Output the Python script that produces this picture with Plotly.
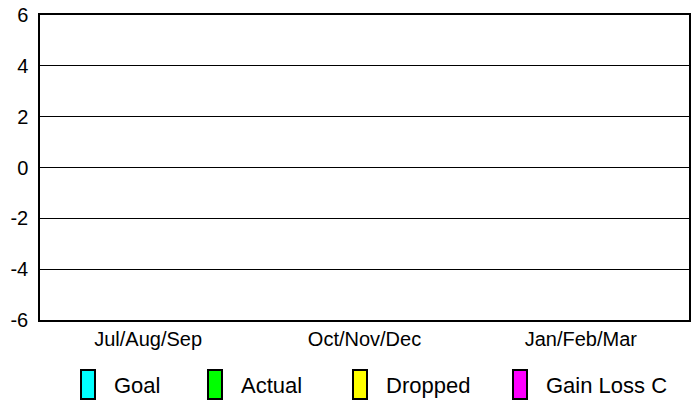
import plotly.graph_objects as go

# Quarterly categories and series (no values recorded for any quarter)
quarters = ["Jul/Aug/Sep", "Oct/Nov/Dec", "Jan/Feb/Mar"]
series_names = ["Goal", "Actual", "Dropped", "Gain Loss C"]
series_colors = ["#00FFFF", "#00FF00", "#FFFF00", "#FF00FF"]
goal = [None, None, None]
actual = [None, None, None]
dropped = [None, None, None]
gain_loss = [None, None, None]
series_values = [goal, actual, dropped, gain_loss]

y_ticks = [-6, -4, -2, 0, 2, 4, 6]

W, H = 698, 402
L, R, T, B = 40, 9, 15, 82
plot_w = W - L - R
plot_h = H - T - B

FONT = "Liberation Sans, Arial, sans-serif"

fig = go.Figure()
for name, color, vals in zip(series_names, series_colors, series_values):
    fig.add_trace(go.Bar(
        x=quarters, y=vals, name=name,
        marker=dict(color=color, line=dict(color="black", width=1)),
        showlegend=False,
    ))


def px_x(p):
    return (p - L) / plot_w


def px_y(p):
    return (H - B - p) / plot_h


# Legend row below the plot: swatch left edges (px) and label offsets
swatch_left = [81, 208, 353, 513]
swatch_w, swatch_top, swatch_bottom = 14, 370, 399
label_gap = 17
label_y = 385

shapes = []
annotations = []
for name, color, sx in zip(series_names, series_colors, swatch_left):
    shapes.append(dict(
        type="rect", xref="paper", yref="paper",
        x0=px_x(sx), x1=px_x(sx + swatch_w),
        y0=px_y(swatch_bottom), y1=px_y(swatch_top),
        fillcolor=color, line=dict(color="black", width=2),
    ))
    annotations.append(dict(
        text=name, xref="paper", yref="paper",
        x=px_x(sx + swatch_w + label_gap), y=px_y(label_y),
        xanchor="left", yanchor="middle", showarrow=False,
        font=dict(family=FONT, size=22, color="black"),
    ))

fig.update_layout(
    width=W, height=H,
    margin=dict(l=L, r=R, t=T, b=B, pad=0, autoexpand=False),
    paper_bgcolor="white", plot_bgcolor="white",
    barmode="group",
    font=dict(family=FONT, color="black"),
    shapes=shapes, annotations=annotations,
    xaxis=dict(
        type="category", categoryorder="array", categoryarray=quarters,
        range=[-0.5, 2.5], automargin=False,
        showline=True, linecolor="black", linewidth=1.5, mirror=True,
        showgrid=False, ticks="", ticklen=0,
        tickfont=dict(family=FONT, size=20, color="black"),
    ),
    yaxis=dict(
        range=[-6, 6], tickvals=y_ticks, ticktext=[str(v) for v in y_ticks],
        automargin=False,
        showline=True, linecolor="black", linewidth=1.5, mirror=True,
        showgrid=True, gridcolor="black", gridwidth=1,
        zeroline=True, zerolinecolor="black", zerolinewidth=1,
        ticks="", ticklen=0, ticklabelstandoff=6,
        tickfont=dict(family=FONT, size=20, color="black"),
    ),
)

fig.write_html("out.html")
